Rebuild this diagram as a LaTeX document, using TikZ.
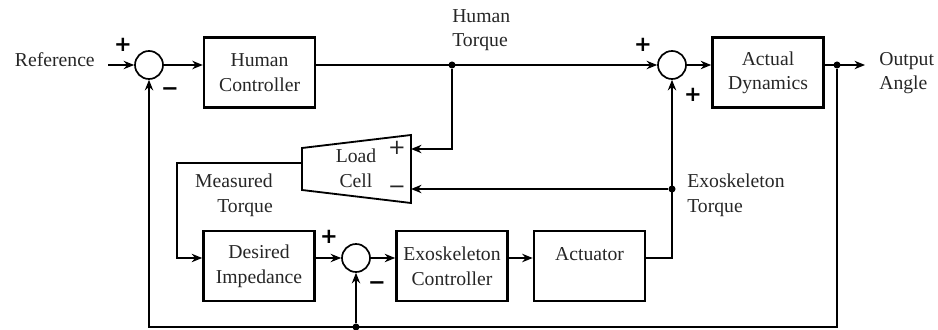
\documentclass[tikz,border=0pt]{standalone}
\usepackage{fontspec}
\setmainfont{Liberation Serif}
\newfontfamily\signfont{DejaVu Sans}
\usepackage{tikz}
\usetikzlibrary{arrows.meta}

\begin{document}
\begin{tikzpicture}[
        font=\fontsize{14}{17.5}\selectfont,
        block/.style={rectangle, draw=black, line width=1.7pt, minimum width=2.78cm, minimum height=1.75cm, inner sep=0pt, align=center, text=black!85},
        sum/.style={circle, draw=black, line width=1.2pt, minimum size=7mm, inner sep=0pt},
        dot/.style={circle, fill=black, minimum size=5pt, inner sep=0pt},
        lbl/.style={inner sep=0pt, text=black!85},
        sgn/.style={inner sep=0pt, font=\signfont\fontsize{15}{15}\selectfont\bfseries},
        sig/.style={-{Stealth[length=7.5pt, width=6pt]}, line width=1.1pt}
    ]
        \useasboundingbox (0, 0) rectangle (23.45, 8.225);

        % Nodes
        \node[lbl, anchor=east] (ref) at (2.375, 6.725) {Reference};
        \coordinate (refin) at (2.7, 6.6);
        \node[sum] (s1) at (3.725, 6.6) {};
        \node[block] (hc) at (6.49, 6.41) {Human\\Controller};
        \node[dot] (ht) at (11.3, 6.6) {};
        \node[lbl, anchor=west, align=left] (htl) at (11.3, 7.475) {Human\\Torque};
        \node[sum] (s2) at (16.8, 6.6) {};
        \node[block] (ad) at (19.2, 6.41) {Actual\\Dynamics};
        \node[dot] (od) at (20.925, 6.6) {};
        \coordinate (oa) at (21.625, 6.6);
        \node[lbl, anchor=west, align=left] (out) at (21.975, 6.4) {Output\\Angle};

        \node[lbl, align=center] (lc) at (8.9, 4.0125) {Load\\Cell};
        \coordinate (lcp) at (10.275, 4.5);
        \coordinate (lcm) at (10.275, 3.5);
        \coordinate (lco) at (7.55, 4.15);
        \coordinate (mtc) at (4.425, 4.15);
        \node[lbl, anchor=east, align=right] (mtl) at (6.825, 3.34) {Measured\\Torque};
        \node[dot] (et) at (16.8, 3.5) {};
        \node[lbl, anchor=west, align=left] (etl) at (17.175, 3.3375) {Exoskeleton\\Torque};

        \node[block] (dp) at (6.475, 1.575) {Desired\\Impedance};
        \node[sum] (s3) at (8.9, 1.775) {};
        \node[block] (ec) at (11.3, 1.575) {Exoskeleton\\Controller};
        \node[block] (act) at (14.7375, 1.575) {Actuator\\\mbox{}};
        \node[dot] (bd) at (8.9, 0.05) {};

        % Signs
        \node[sgn] (s1p) at (3.075, 7.1) {+};
        \node[sgn] (s1m) at (4.25, 5.925) {−};
        \node[sgn] (s2p) at (16.075, 7.1) {+};
        \node[sgn] (s2q) at (17.325, 5.85) {+};
        \node[sgn] (s3p) at (8.225, 2.3) {+};
        \node[sgn] (s3m) at (9.425, 1.075) {−};
        \node[lbl, font=\signfont\fontsize{15}{15}\selectfont] (lcps) at (9.925, 4.525) {+};
        \node[lbl, font=\signfont\fontsize{15}{15}\selectfont] (lcms) at (9.925, 3.475) {−};

        % Load cell
        \draw[line width=1.3pt] (7.55, 4.525) -- (10.275, 4.85) -- (10.275, 3.15) -- (7.55, 3.475) -- cycle;

        % Edges
        \draw[sig] (refin) -- (s1);
        \draw[sig] (s1) -- (hc.west |- s1);
        \draw[sig] (hc.east |- s1) -- (s2);
        \draw[sig] (ht) |- (lcp);
        \draw[sig] (s2) -- (ad.west |- s2);
        \draw[sig] (ad.east |- s2) -- (oa);
        \draw[sig] (od) |- (s1 |- bd) -- (s1);
        \draw[sig] (bd) -- (s3);
        \draw[sig] (lco) -- (mtc) |- (dp.west |- s3);
        \draw[sig] (dp.east |- s3) -- (s3);
        \draw[sig] (s3) -- (ec.west |- s3);
        \draw[sig] (ec.east |- s3) -- (act.west |- s3);
        \draw[sig] (act.east |- s3) -| (s2);
        \draw[sig] (et) -- (lcm);

    \end{tikzpicture}
\end{document}
